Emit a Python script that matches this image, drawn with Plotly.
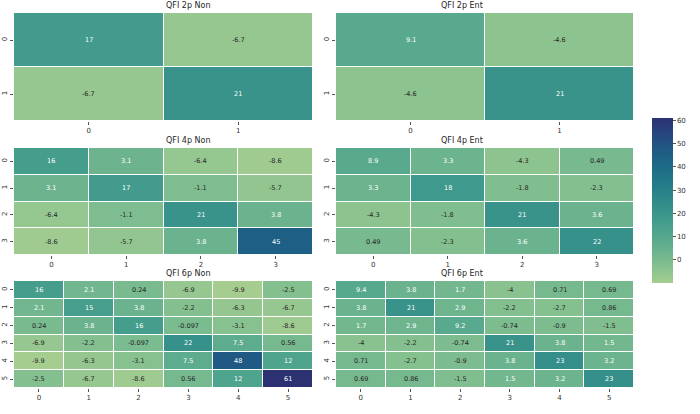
import plotly.graph_objects as go
from plotly.subplots import make_subplots

# QFI matrices
qfi_2p_non = [[17, -6.7],
              [-6.7, 21]]
qfi_2p_ent = [[9.1, -4.6],
              [-4.6, 21]]
qfi_4p_non = [[16, 3.1, -6.4, -8.6],
              [3.1, 17, -1.1, -5.7],
              [-6.4, -1.1, 21, 3.8],
              [-8.6, -5.7, 3.8, 45]]
qfi_4p_ent = [[8.9, 3.3, -4.3, 0.49],
              [3.3, 18, -1.8, -2.3],
              [-4.3, -1.8, 21, 3.6],
              [0.49, -2.3, 3.6, 22]]
qfi_6p_non = [[16, 2.1, 0.24, -6.9, -9.9, -2.5],
              [2.1, 15, 3.8, -2.2, -6.3, -6.7],
              [0.24, 3.8, 16, -0.097, -3.1, -8.6],
              [-6.9, -2.2, -0.097, 22, 7.5, 0.56],
              [-9.9, -6.3, -3.1, 7.5, 48, 12],
              [-2.5, -6.7, -8.6, 0.56, 12, 61]]
qfi_6p_ent = [[9.4, 3.8, 1.7, -4, 0.71, 0.69],
              [3.8, 21, 2.9, -2.2, -2.7, 0.86],
              [1.7, 2.9, 9.2, -0.74, -0.9, -1.5],
              [-4, -2.2, -0.74, 21, 3.8, 1.5],
              [0.71, -2.7, -0.9, 3.8, 23, 3.2],
              [0.69, 0.86, -1.5, 1.5, 3.2, 23]]

panels = [("QFI 2p Non", qfi_2p_non), ("QFI 2p Ent", qfi_2p_ent),
          ("QFI 4p Non", qfi_4p_non), ("QFI 4p Ent", qfi_4p_ent),
          ("QFI 6p Non", qfi_6p_non), ("QFI 6p Ent", qfi_6p_ent)]

zmin = -9.9
zmax = 61
cbar_ticks = [0, 10, 20, 30, 40, 50, 60]

# approximation of seaborn "crest"
crest = [[0.0, "#a5cd90"], [0.1, "#85c08f"], [0.2, "#68b28e"],
         [0.3, "#51a58d"], [0.4, "#3e988c"], [0.5, "#2f8a8a"],
         [0.6, "#237b88"], [0.7, "#1d6c86"], [0.8, "#1f5c84"],
         [0.9, "#25477e"], [1.0, "#2c3172"]]

W, H = 700, 414
x_dom = [(14 / W, 313 / W), (336 / W, 634 / W)]
y_px = [(13, 121), (148, 255), (281, 388)]
y_dom = [(1 - b / H, 1 - t / H) for t, b in y_px]

fig = make_subplots(rows=3, cols=2)

tick_font = dict(family="DejaVu Sans", size=7, color="#333333")
annotations = []

for k, (title, mat) in enumerate(panels):
    r, c = k // 2, k % 2
    n = len(mat)
    idx = list(range(n))
    fig.add_trace(go.Heatmap(
        z=mat, x=idx, y=idx,
        zmin=zmin, zmax=zmax, colorscale=crest,
        xgap=1, ygap=1,
        showscale=(k == 0),
        colorbar=dict(x=652 / W, xanchor="left", y=1 - 200.5 / H, yanchor="middle",
                      len=165 / H, lenmode="fraction", thickness=21,
                      xpad=0, ypad=0,
                      outlinewidth=0, tickvals=cbar_ticks,
                      ticks="outside", ticklen=3, tickcolor="#555555",
                      tickfont=tick_font),
        hoverinfo="z",
    ), row=r + 1, col=c + 1)

    axn = k + 1
    xa = "xaxis" if axn == 1 else f"xaxis{axn}"
    ya = "yaxis" if axn == 1 else f"yaxis{axn}"
    fig.layout[xa].update(domain=x_dom[c], tickvals=idx, ticktext=[str(i) for i in idx],
                          ticks="outside", ticklen=3, tickcolor="#555555",
                          tickfont=tick_font, showgrid=False, zeroline=False,
                          range=[-0.5, n - 0.5])
    fig.layout[ya].update(domain=y_dom[r], tickvals=idx, ticktext=[str(i) for i in idx],
                          ticks="outside", ticklen=3, tickcolor="#555555",
                          tickfont=tick_font, showgrid=False, zeroline=False,
                          range=[n - 0.5, -0.5], tickangle=-90)

    xref = "x" if axn == 1 else f"x{axn}"
    yref = "y" if axn == 1 else f"y{axn}"
    for i in range(n):
        for j in range(n):
            v = mat[i][j]
            annotations.append(dict(
                x=j, y=i, xref=xref, yref=yref, text=format(v, ".2g"),
                showarrow=False,
                font=dict(family="DejaVu Sans", size=6.5,
                          color="#ffffff" if v > 1 else "#262626")))
    annotations.append(dict(
        x=(x_dom[c][0] + x_dom[c][1]) / 2, y=y_dom[r][1], xref="paper", yref="paper",
        text=title, showarrow=False, yanchor="bottom", yshift=1,
        font=dict(family="DejaVu Sans", size=8, color="#262626")))

fig.update_layout(
    width=W, height=H,
    margin=dict(l=0, r=0, t=0, b=0),
    paper_bgcolor="white", plot_bgcolor="white",
    annotations=annotations,
    showlegend=False,
)

# drop the browser's default body margin so the 700x414 figure fills the window
fig.write_html("out.html", config={"displayModeBar": False},
               post_script="document.body.style.margin = '0';")
